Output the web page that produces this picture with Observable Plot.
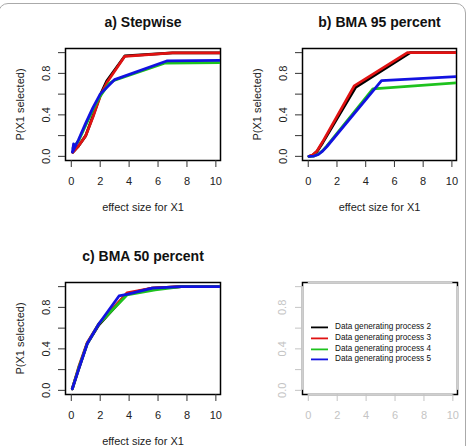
<!DOCTYPE html>
<html>
<head>
<meta charset="utf-8">
<script src="https://cdn.jsdelivr.net/npm/d3@7"></script>
<script src="https://cdn.jsdelivr.net/npm/@observablehq/plot@0.6"></script>
<style>
  html, body { margin: 0; padding: 0; background: #fff; }
  body { font-family: "Liberation Sans", Arial, sans-serif; }
  #wrap { position: relative; width: 469px; height: 446px; overflow: hidden; background: #fff; }
  .panel { position: absolute; }
  #border { position: absolute; left: -2px; top: 3px; width: 468px; height: 500px; border: 1px solid #aaa; border-radius: 10px; box-sizing: border-box; pointer-events: none; }
  #legend { position: absolute; left: 311px; top: 322px; font-size: 8.2px; color: #111; line-height: 10.8px; }
  #legend .row { display: flex; align-items: center; height: 10.8px; white-space: nowrap; }
  #legend svg { margin-right: 7px; }
</style>
</head>
<body>
<div id="wrap">
  <div id="border"></div>
</div>
<script>
// ---------- data ----------
const seriesNames = ["Data generating process 2", "Data generating process 3", "Data generating process 4", "Data generating process 5"];
const seriesColors = ["#000000", "#e01212", "#1ec21e", "#1212e0"];
const xTicks = [0, 2, 4, 6, 8, 10];
const yTicks = [0, 0.2, 0.4, 0.6, 0.8, 1.0];
const yTickLabels = [0, 0.4, 0.8];
const xDomain = [-0.4, 10.32];
const yDomain = [-0.04, 1.04];
const panelTitles = ["a) Stepwise", "b) BMA 95 percent", "c) BMA 50 percent"];
const xLabel = "effect size for X1";
const yLabel = "P(X1 selected)";

// a) Stepwise : [effect size, P(X1 selected)]
const stepDgp2 = [[0.1,0.04],[0.5,0.1],[1,0.2],[1.5,0.39],[2,0.59],[2.45,0.725],[3.7,0.968],[7,0.997],[10.5,0.997]];
const stepDgp3 = [[0.1,0.04],[0.5,0.1],[1,0.2],[1.5,0.38],[2,0.58],[2.5,0.72],[3.7,0.965],[7,0.997],[10.5,0.997]];
const stepDgp4 = [[0.12,0.08],[0.5,0.15],[1,0.3],[1.5,0.45],[2,0.58],[2.6,0.7],[3,0.735],[6.5,0.9],[10.5,0.905]];
const stepDgp5 = [[0.16,0.12],[0.08,0.04],[0.5,0.16],[1,0.32],[1.5,0.47],[2,0.6],[3,0.74],[6.6,0.92],[10.5,0.925]];

// b) BMA 95 percent
const bma95Dgp2 = [[0.05,0],[0.3,0.01],[0.6,0.045],[1,0.13],[3.3,0.665],[7.1,1.0],[10.5,1.0]];
const bma95Dgp3 = [[0.05,0],[0.3,0.012],[0.6,0.05],[1,0.14],[3.2,0.68],[6.9,1.0],[10.5,1.0]];
const bma95Dgp4 = [[0.05,0],[0.4,0.003],[0.7,0.02],[1,0.055],[1.3,0.1],[4.5,0.65],[10.5,0.71]];
const bma95Dgp5 = [[0.05,0],[0.4,0.003],[0.7,0.018],[1,0.05],[1.3,0.095],[5.1,0.73],[10.5,0.77]];

// c) BMA 50 percent
const bma50Dgp2 = [[0.07,0.015],[0.5,0.2],[1.1,0.45],[1.9,0.63],[3.85,0.93],[5.6,0.985],[7.6,1.0],[10.5,1.0]];
const bma50Dgp3 = [[0.07,0.015],[0.5,0.22],[1.1,0.46],[1.9,0.64],[3.85,0.94],[5.6,0.985],[7.6,1.0],[10.5,1.0]];
const bma50Dgp4 = [[0.07,0.015],[0.5,0.21],[1.1,0.45],[1.9,0.64],[3.85,0.92],[5.8,0.97],[7.6,1.0],[10.5,1.0]];
const bma50Dgp5 = [[0.07,0.015],[0.5,0.2],[1.1,0.45],[1.9,0.64],[3.3,0.91],[3.85,0.925],[5.6,0.985],[7.6,1.0],[10.5,1.0]];

// ---------- drawing ----------
const FONT = '"Liberation Sans", Arial, sans-serif';
const wrap = document.getElementById("wrap");

function makePanel(cfg) {
  const faded = !!cfg.faded;
  const tickColor = faded ? "#c4c4c4" : "#333";
  const labelColor = faded ? "#c4c4c4" : "#222";
  const marks = [];
  marks.push(Plot.frame({stroke: "black", strokeWidth: 1.5}));
  if (faded) {
    const grey = "#cfcfcf";
    marks.push(Plot.ruleY([yDomain[0], yDomain[1]], {y: d => d, x1: () => xTicks[0], x2: () => xTicks[xTicks.length - 1], stroke: grey, strokeWidth: 2}));
    marks.push(Plot.ruleX([xDomain[0], xDomain[1]], {x: d => d, y1: () => yTicks[0], y2: () => yTicks[yTicks.length - 1], stroke: grey, strokeWidth: 2}));
  }
  if (cfg.series) {
    cfg.series.forEach((s, i) => {
      marks.push(Plot.line(s, {x: d => d[0], y: d => d[1], stroke: seriesColors[i], strokeWidth: 2.8, clip: true, strokeLinejoin: "round"}));
    });
  }
  marks.push(Plot.axisX(xTicks, {anchor: "bottom", tickSize: 7, tickPadding: 10, fontSize: 11, stroke: tickColor, fill: labelColor, label: null}));
  marks.push(Plot.axisY(yTicks, {anchor: "left", tickSize: 7, tickFormat: () => "", stroke: tickColor, label: null}));
  marks.push(Plot.text(yTickLabels, {y: d => d, text: d => d.toFixed(1), frameAnchor: "left", dx: cfg.ytDx, rotate: -90, textAnchor: "middle", lineAnchor: "middle", fontSize: 11, fill: labelColor}));
  if (!faded) {
    marks.push(Plot.text([cfg.title], {text: d => d, frameAnchor: "top", dy: -26.2, fontSize: 14, fontWeight: "bold", fill: "#111", lineAnchor: "middle"}));
    marks.push(Plot.text([xLabel], {text: d => d, frameAnchor: "bottom", dy: 47, fontSize: 11, fill: "#222", lineAnchor: "middle"}));
    marks.push(Plot.text([yLabel], {text: d => d, frameAnchor: "left", dx: cfg.ylDx, rotate: -90, fontSize: 11, fill: "#222", lineAnchor: "middle", textAnchor: "middle"}));
  }
  const svg = Plot.plot({
    width: cfg.w, height: cfg.h,
    marginLeft: cfg.ml, marginRight: cfg.mr, marginTop: cfg.mt, marginBottom: cfg.mb,
    x: {domain: xDomain},
    y: {domain: yDomain},
    style: {fontFamily: FONT, background: "transparent", overflow: "visible"},
    marks
  });
  const div = document.createElement("div");
  div.className = "panel";
  div.style.left = cfg.left + "px";
  div.style.top = cfg.top + "px";
  div.appendChild(svg);
  wrap.appendChild(div);
}

makePanel({title: panelTitles[0], series: [stepDgp2, stepDgp3, stepDgp4, stepDgp5],
  left: 0, top: 0, w: 235, h: 225, ml: 65, mr: 15, mt: 48, mb: 65, ytDx: -18.6, ylDx: -45.3});
makePanel({title: panelTitles[1], series: [bma95Dgp2, bma95Dgp3, bma95Dgp4, bma95Dgp5],
  left: 235, top: 0, w: 234, h: 225, ml: 67, mr: 13, mt: 48, mb: 65, ytDx: -19, ylDx: -44.7});
makePanel({title: panelTitles[2], series: [bma50Dgp2, bma50Dgp3, bma50Dgp4, bma50Dgp5],
  left: 0, top: 225, w: 235, h: 221, ml: 65, mr: 15, mt: 57, mb: 52, ytDx: -18.6, ylDx: -45.3});
makePanel({faded: true, series: null,
  left: 235, top: 225, w: 234, h: 221, ml: 67, mr: 12, mt: 57, mb: 52, ytDx: -20, ylDx: -45});

// legend
const legend = document.createElement("div");
legend.id = "legend";
seriesNames.forEach((name, i) => {
  const row = document.createElement("div");
  row.className = "row";
  const sw = d3.create("svg").attr("width", 17).attr("height", 10.8);
  sw.append("line").attr("x1", 0).attr("x2", 17).attr("y1", 5.4).attr("y2", 5.4)
    .attr("stroke", seriesColors[i]).attr("stroke-width", 1.8);
  row.appendChild(sw.node());
  const t = document.createElement("span");
  t.textContent = name;
  row.appendChild(t);
  legend.appendChild(row);
});
wrap.appendChild(legend);
// keep border on top
wrap.appendChild(document.getElementById("border"));
</script>
</body>
</html>
